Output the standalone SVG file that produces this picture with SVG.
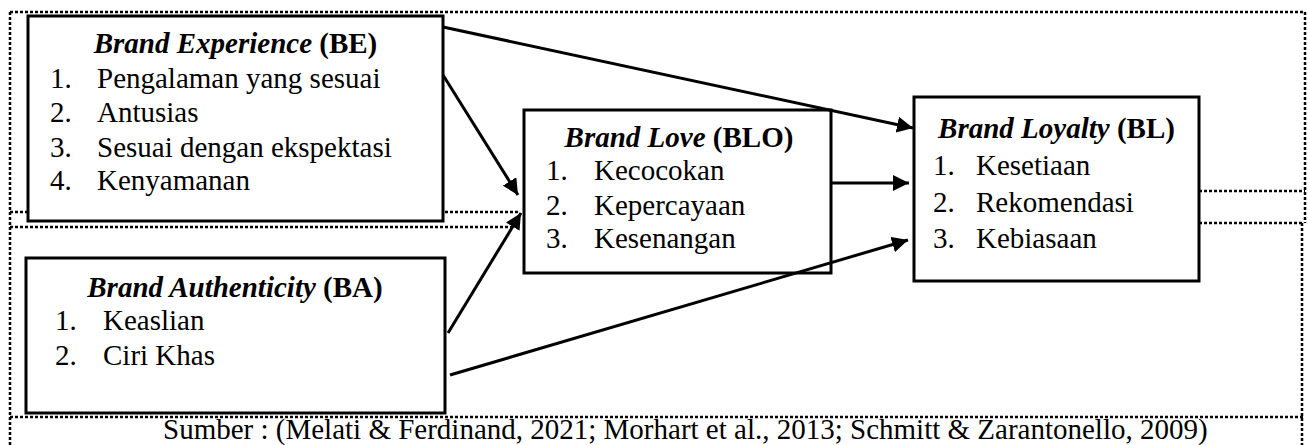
<svg xmlns="http://www.w3.org/2000/svg" width="1308" height="445" viewBox="0 0 1308 445">
<style>
.tx{font-family:"Liberation Serif","Times New Roman",serif;font-size:29px;fill:#000}
.t{font-weight:bold;text-anchor:middle}
.i{font-style:italic}
.box{fill:#fff;stroke:#000;stroke-width:3}
.dot{fill:none;stroke:#000;stroke-width:2.5;stroke-dasharray:3 2}
.con{fill:none;stroke:#000;stroke-width:3}
</style>
<defs>
<marker id="ah" markerUnits="userSpaceOnUse" markerWidth="18" markerHeight="16" refX="16" refY="8" orient="auto">
<path d="M0,0 L16,8 L0,16 Z" fill="#000"/>
</marker>
</defs>
<g id="frame">
<path class="dot" d="M10,12 H1305 V223"/>
<path class="dot" d="M1302,223 V445"/>
<path class="dot" d="M10,12 V445"/>
<path class="dot" d="M10,212 H518"/>
<path class="dot" d="M10,227 H512"/>
<path class="dot" d="M1199,191 H1305"/>
<path class="dot" d="M1199,223 H1302"/>
<path class="dot" d="M10,417 H1303"/>
</g>
<g id="BE">
<rect class="box" x="28" y="16" width="415" height="205"/>
<g class="tx">
<text class="tx t" x="235.5" y="53"><tspan class="i">Brand Experience</tspan> (BE)</text>
<text class="tx" x="50" y="88">1.</text><text class="tx" x="97" y="88">Pengalaman yang sesuai</text>
<text class="tx" x="50" y="122">2.</text><text class="tx" x="97" y="122">Antusias</text>
<text class="tx" x="50" y="157">3.</text><text class="tx" x="97" y="157">Sesuai dengan ekspektasi</text>
<text class="tx" x="50" y="190">4.</text><text class="tx" x="97" y="190">Kenyamanan</text>
</g>
</g>
<g id="BA">
<rect class="box" x="26" y="258" width="419" height="155"/>
<g class="tx">
<text class="tx t" x="235" y="297"><tspan class="i">Brand Authenticity</tspan> (BA)</text>
<text class="tx" x="55" y="330">1.</text><text class="tx" x="103" y="330">Keaslian</text>
<text class="tx" x="55" y="365">2.</text><text class="tx" x="103" y="365">Ciri Khas</text>
</g>
</g>
<g id="BLO">
<rect class="box" x="524" y="110" width="307" height="163"/>
<g class="tx">
<text class="tx t" x="679" y="147"><tspan class="i">Brand Love</tspan> (BLO)</text>
<text class="tx" x="546" y="180">1.</text><text class="tx" x="594" y="180">Kecocokan</text>
<text class="tx" x="546" y="215">2.</text><text class="tx" x="594" y="215">Kepercayaan</text>
<text class="tx" x="546" y="248">3.</text><text class="tx" x="594" y="248">Kesenangan</text>
</g>
</g>
<g id="BL">
<rect class="box" x="914" y="97" width="285" height="184"/>
<g class="tx">
<text class="tx t" x="1056.5" y="138"><tspan class="i">Brand Loyalty</tspan> (BL)</text>
<text class="tx" x="933" y="175">1.</text><text class="tx" x="976" y="175">Kesetiaan</text>
<text class="tx" x="933" y="212">2.</text><text class="tx" x="976" y="212">Rekomendasi</text>
<text class="tx" x="933" y="248">3.</text><text class="tx" x="976" y="248">Kebiasaan</text>
</g>
</g>
<g id="connectors">
<line class="con" x1="443" y1="27" x2="913" y2="128" marker-end="url(#ah)"/>
<line class="con" x1="443" y1="75" x2="518" y2="195" marker-end="url(#ah)"/>
<line class="con" x1="448" y1="333" x2="521" y2="213" marker-end="url(#ah)"/>
<line class="con" x1="450" y1="375" x2="908" y2="240" marker-end="url(#ah)"/>
<line class="con" x1="831" y1="183" x2="909" y2="183" marker-end="url(#ah)"/>
</g>
<g id="source">
<text class="tx" x="163" y="439">Sumber : (Melati &amp; Ferdinand, 2021; Morhart et al., 2013; Schmitt &amp; Zarantonello, 2009)</text>
</g>
</svg>
